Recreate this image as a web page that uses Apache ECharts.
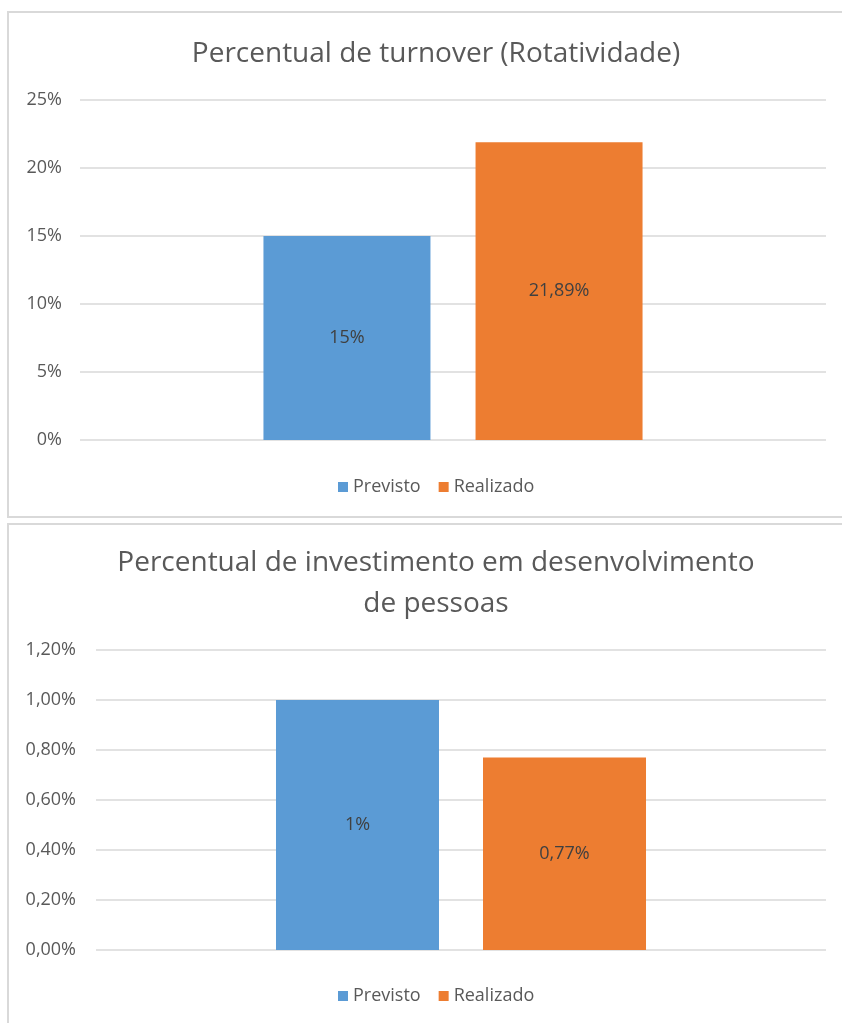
<!DOCTYPE html>
<html>
<head>
<meta charset="utf-8">
<script src="https://cdn.jsdelivr.net/npm/echarts@6/dist/echarts.min.js"></script>
<style>
html,body{margin:0;padding:0;background:#fff;}
#c{width:842px;height:1023px;}
</style>
</head>
<body>
<div id="c"></div>
<script>
var seriesNames = ['Previsto', 'Realizado'];
var turnoverCategory = ['Turnover'];
var turnoverPrevisto = [15];
var turnoverRealizado = [21.89];
var turnoverLabels = ['15%', '21,89%'];
var investCategory = ['Investimento'];
var investPrevisto = [1.00];
var investRealizado = [0.77];
var investLabels = ['1%', '0,77%'];

var FONT = 'Open Sans';
var BLUE = '#5B9BD5', ORANGE = '#ED7D31';

var chart = echarts.init(document.getElementById('c'));
function yAxis(idx, max, interval, fmt, margin) {
  return {
    type: 'value', gridIndex: idx, min: 0, max: max, interval: interval,
    axisLine: {show: false}, axisTick: {show: false},
    splitLine: {lineStyle: {color: '#d9d9d9', width: 1.5}},
    axisLabel: {color: '#595959', fontSize: 18, fontFamily: FONT, margin: margin, formatter: fmt}
  };
}
function xAxis(idx, data) {
  return {
    type: 'category', gridIndex: idx, data: data,
    axisLine: {show: false}, axisTick: {show: false}, axisLabel: {show: false}
  };
}
function bar(name, idx, data, color, label, width) {
  return {
    name: name, type: 'bar', xAxisIndex: idx, yAxisIndex: idx, data: data,
    barWidth: width, barGap: '27%',
    itemStyle: {color: color},
    label: {show: true, position: 'inside', color: '#404040', fontSize: 18, fontFamily: FONT,
      formatter: function () { return label; }}
  };
}
chart.setOption({
  animation: false,
  textStyle: {fontFamily: FONT},
  graphic: [
    {type: 'rect', shape: {x: 8, y: 12, width: 840, height: 505}, style: {fill: null, stroke: '#d9d9d9', lineWidth: 2}},
    {type: 'rect', shape: {x: 8, y: 524, width: 840, height: 520}, style: {fill: null, stroke: '#d9d9d9', lineWidth: 2}}
  ],
  title: [
    {text: 'Percentual de turnover (Rotatividade)', left: 431, textAlign: 'center', top: 35,
      textStyle: {color: '#595959', fontSize: 28, fontWeight: 'normal', fontFamily: FONT}},
    {text: 'Percentual de investimento em desenvolvimento\nde pessoas', left: 431, textAlign: 'center', top: 538,
      textStyle: {color: '#595959', fontSize: 28, fontWeight: 'normal', fontFamily: FONT, lineHeight: 41}}
  ],
  legend: [
    {data: seriesNames, top: 473, left: 333, icon: 'rect', itemWidth: 10, itemHeight: 10, itemGap: 18,
      textStyle: {color: '#595959', fontSize: 18, fontFamily: FONT}},
    {data: seriesNames, top: 982, left: 333, icon: 'rect', itemWidth: 10, itemHeight: 10, itemGap: 18,
      textStyle: {color: '#595959', fontSize: 18, fontFamily: FONT}}
  ],
  grid: [
    {left: 80, right: 16, top: 100, height: 340},
    {left: 96, right: 16, top: 650, height: 300}
  ],
  xAxis: [xAxis(0, turnoverCategory), xAxis(1, investCategory)],
  yAxis: [
    yAxis(0, 25, 5, '{value}%', 18),
    yAxis(1, 1.2, 0.2, function (v) { return v.toFixed(2).replace('.', ',') + '%'; }, 20)
  ],
  series: [
    bar(seriesNames[0], 0, turnoverPrevisto, BLUE, turnoverLabels[0], 167),
    bar(seriesNames[1], 0, turnoverRealizado, ORANGE, turnoverLabels[1], 167),
    bar(seriesNames[0], 1, investPrevisto, BLUE, investLabels[0], 163),
    bar(seriesNames[1], 1, investRealizado, ORANGE, investLabels[1], 163)
  ]
});
</script>
</body>
</html>
